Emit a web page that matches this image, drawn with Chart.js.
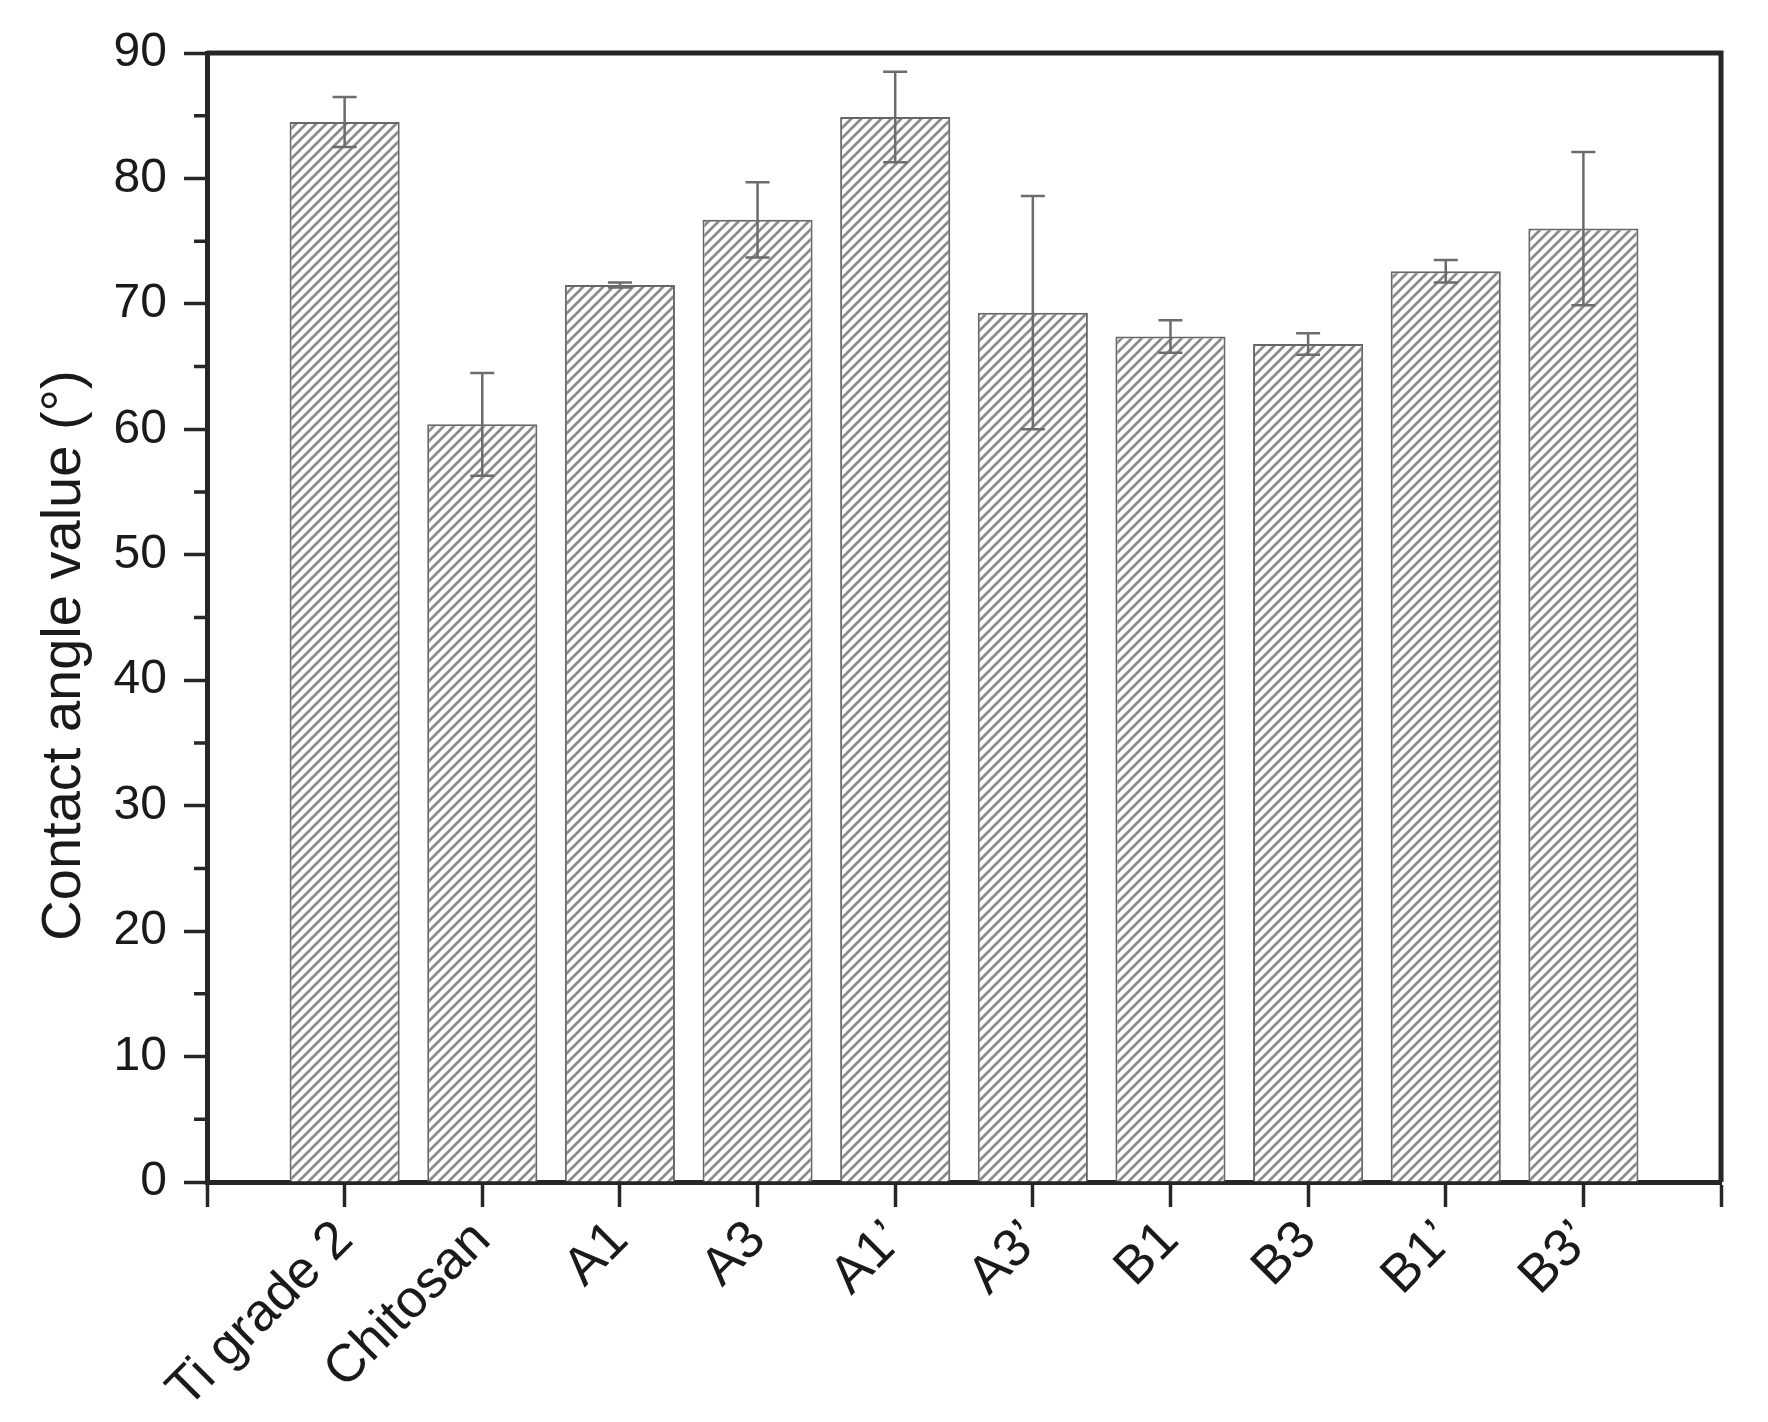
<!DOCTYPE html>
<html>
<head>
<meta charset="utf-8">
<script src="https://cdn.jsdelivr.net/npm/chart.js@4.4.1/dist/chart.umd.min.js"></script>
<style>
html, body { margin: 0; padding: 0; background: #fff; }
</style>
</head>
<body>
<canvas id="chart" width="1768" height="1422"></canvas>
<script>

var categories = ['Ti grade 2', 'Chitosan', 'A1', 'A3', 'A1\u2019', 'A3\u2019', 'B1', 'B3', 'B1\u2019', 'B3\u2019'];
var angleValues = [84.5, 60.4, 71.5, 76.7, 84.9, 69.3, 67.4, 66.8, 72.6, 76.0];
var angleErrors = [2.0, 4.1, 0.2, 3.0, 3.6, 9.3, 1.3, 0.85, 0.9, 6.1];
var yTicks = [0, 10, 20, 30, 40, 50, 60, 70, 80, 90];
var yMinorTicks = [5, 15, 25, 35, 45, 55, 65, 75, 85];
var yTitleText = 'Contact angle value (\u00b0)';

var FONT = "'Liberation Sans', Arial, sans-serif";
var AXIS = '#262626';
var TEXT = '#1a1a1a';

var ctx = document.getElementById('chart').getContext('2d');

function makeHatch(){
	var c = document.createElement('canvas');
	c.width = 10;
	c.height = 10;
	var g = c.getContext('2d');
	g.fillStyle = '#fff';
	g.fillRect(0, 0, 10, 10);
	g.strokeStyle = '#8a8a8a';
	g.lineWidth = 2.7;
	g.beginPath();
	g.moveTo(-2, 12); g.lineTo(12, -2);
	g.moveTo(-2, 2); g.lineTo(2, -2);
	g.moveTo(8, 12); g.lineTo(12, 8);
	g.stroke();
	return ctx.createPattern(c, 'repeat');
}

// x positions 0..n+1, categories sit on 1..n
function xTickList(){
	var list = [];
	for (var i = 0; i <= categories.length + 1; i++) list.push({value: i});
	return list;
}

var errorBars = {
	id: 'errorBars',
	afterDatasetsDraw: function(chart){
		var c = chart.ctx, xs = chart.scales.x, ys = chart.scales.y;
		c.save();
		c.strokeStyle = '#6c6c6c';
		c.lineWidth = 2.5;
		angleValues.forEach(function(v, i){
			var x = xs.getPixelForValue(i + 1);
			var top = ys.getPixelForValue(v + angleErrors[i]);
			var bot = ys.getPixelForValue(v - angleErrors[i]);
			c.beginPath();
			c.moveTo(x, top); c.lineTo(x, bot);
			c.moveTo(x - 12, top); c.lineTo(x + 12, top);
			c.moveTo(x - 12, bot); c.lineTo(x + 12, bot);
			c.stroke();
		});
		c.restore();
	}
};

// top/right frame, minor y ticks and the y title (sits a bit below centre)
var frame = {
	id: 'frame',
	afterDraw: function(chart){
		var c = chart.ctx, a = chart.chartArea, ys = chart.scales.y;
		c.save();
		c.strokeStyle = AXIS;
		c.lineWidth = 5;
		c.beginPath();
		c.moveTo(a.left, a.top);
		c.lineTo(a.right, a.top);
		c.lineTo(a.right, a.bottom);
		c.stroke();
		c.lineWidth = 3.5;
		c.beginPath();
		yMinorTicks.forEach(function(v){
			var y = ys.getPixelForValue(v);
			c.moveTo(a.left - 13, y);
			c.lineTo(a.left, y);
		});
		c.stroke();

		c.translate(80, (a.top + a.bottom) / 2 + 38);
		c.rotate(-Math.PI / 2);
		c.font = '56px ' + FONT;
		c.fillStyle = TEXT;
		c.textAlign = 'center';
		c.textBaseline = 'alphabetic';
		c.fillText(yTitleText, 0, 0);
		c.restore();
	}
};

new Chart(ctx, {
	type: 'bar',
	data: {
		datasets: [{
			label: 'Contact angle',
			data: angleValues.map(function(v, i){ return {x: i + 1, y: v}; }),
			backgroundColor: makeHatch(),
			borderColor: '#676767',
			borderWidth: 2,
			barPercentage: 0.8,
			categoryPercentage: 1.0
		}]
	},
	options: {
		responsive: false,
		animation: false,
		devicePixelRatio: 1,
		layout: { padding: { top: 53, right: 33, left: 0, bottom: 0 } },
		plugins: {
			legend: { display: false },
			tooltip: { enabled: false }
		},
		scales: {
			x: {
				type: 'linear',
				min: 0,
				max: categories.length + 1,
				offset: false,
				afterBuildTicks: function(s){ s.ticks = xTickList(); },
				afterFit: function(s){ s.height = 240; },
				grid: { offset: false, drawOnChartArea: false, tickLength: 25, tickWidth: 3.5, tickColor: AXIS },
				border: { color: AXIS, width: 5 },
				ticks: {
					autoSkip: false,
					maxRotation: 45,
					minRotation: 45,
					padding: 2,
					color: TEXT,
					font: { family: FONT, size: 53 },
					callback: function(v){ return categories[v - 1] || ''; }
				}
			},
			y: {
				min: 0,
				max: 90,
				afterBuildTicks: function(s){ s.ticks = yTicks.map(function(v){ return {value: v}; }); },
				afterFit: function(s){ s.width = 207; },
				grid: { drawOnChartArea: false, tickLength: 23, tickWidth: 3.5, tickColor: AXIS },
				border: { color: AXIS, width: 5 },
				ticks: {
					padding: 17,
					color: TEXT,
					font: { family: FONT, size: 48 }
				}
			}
		}
	},
	plugins: [errorBars, frame]
});

</script>
</body>
</html>
